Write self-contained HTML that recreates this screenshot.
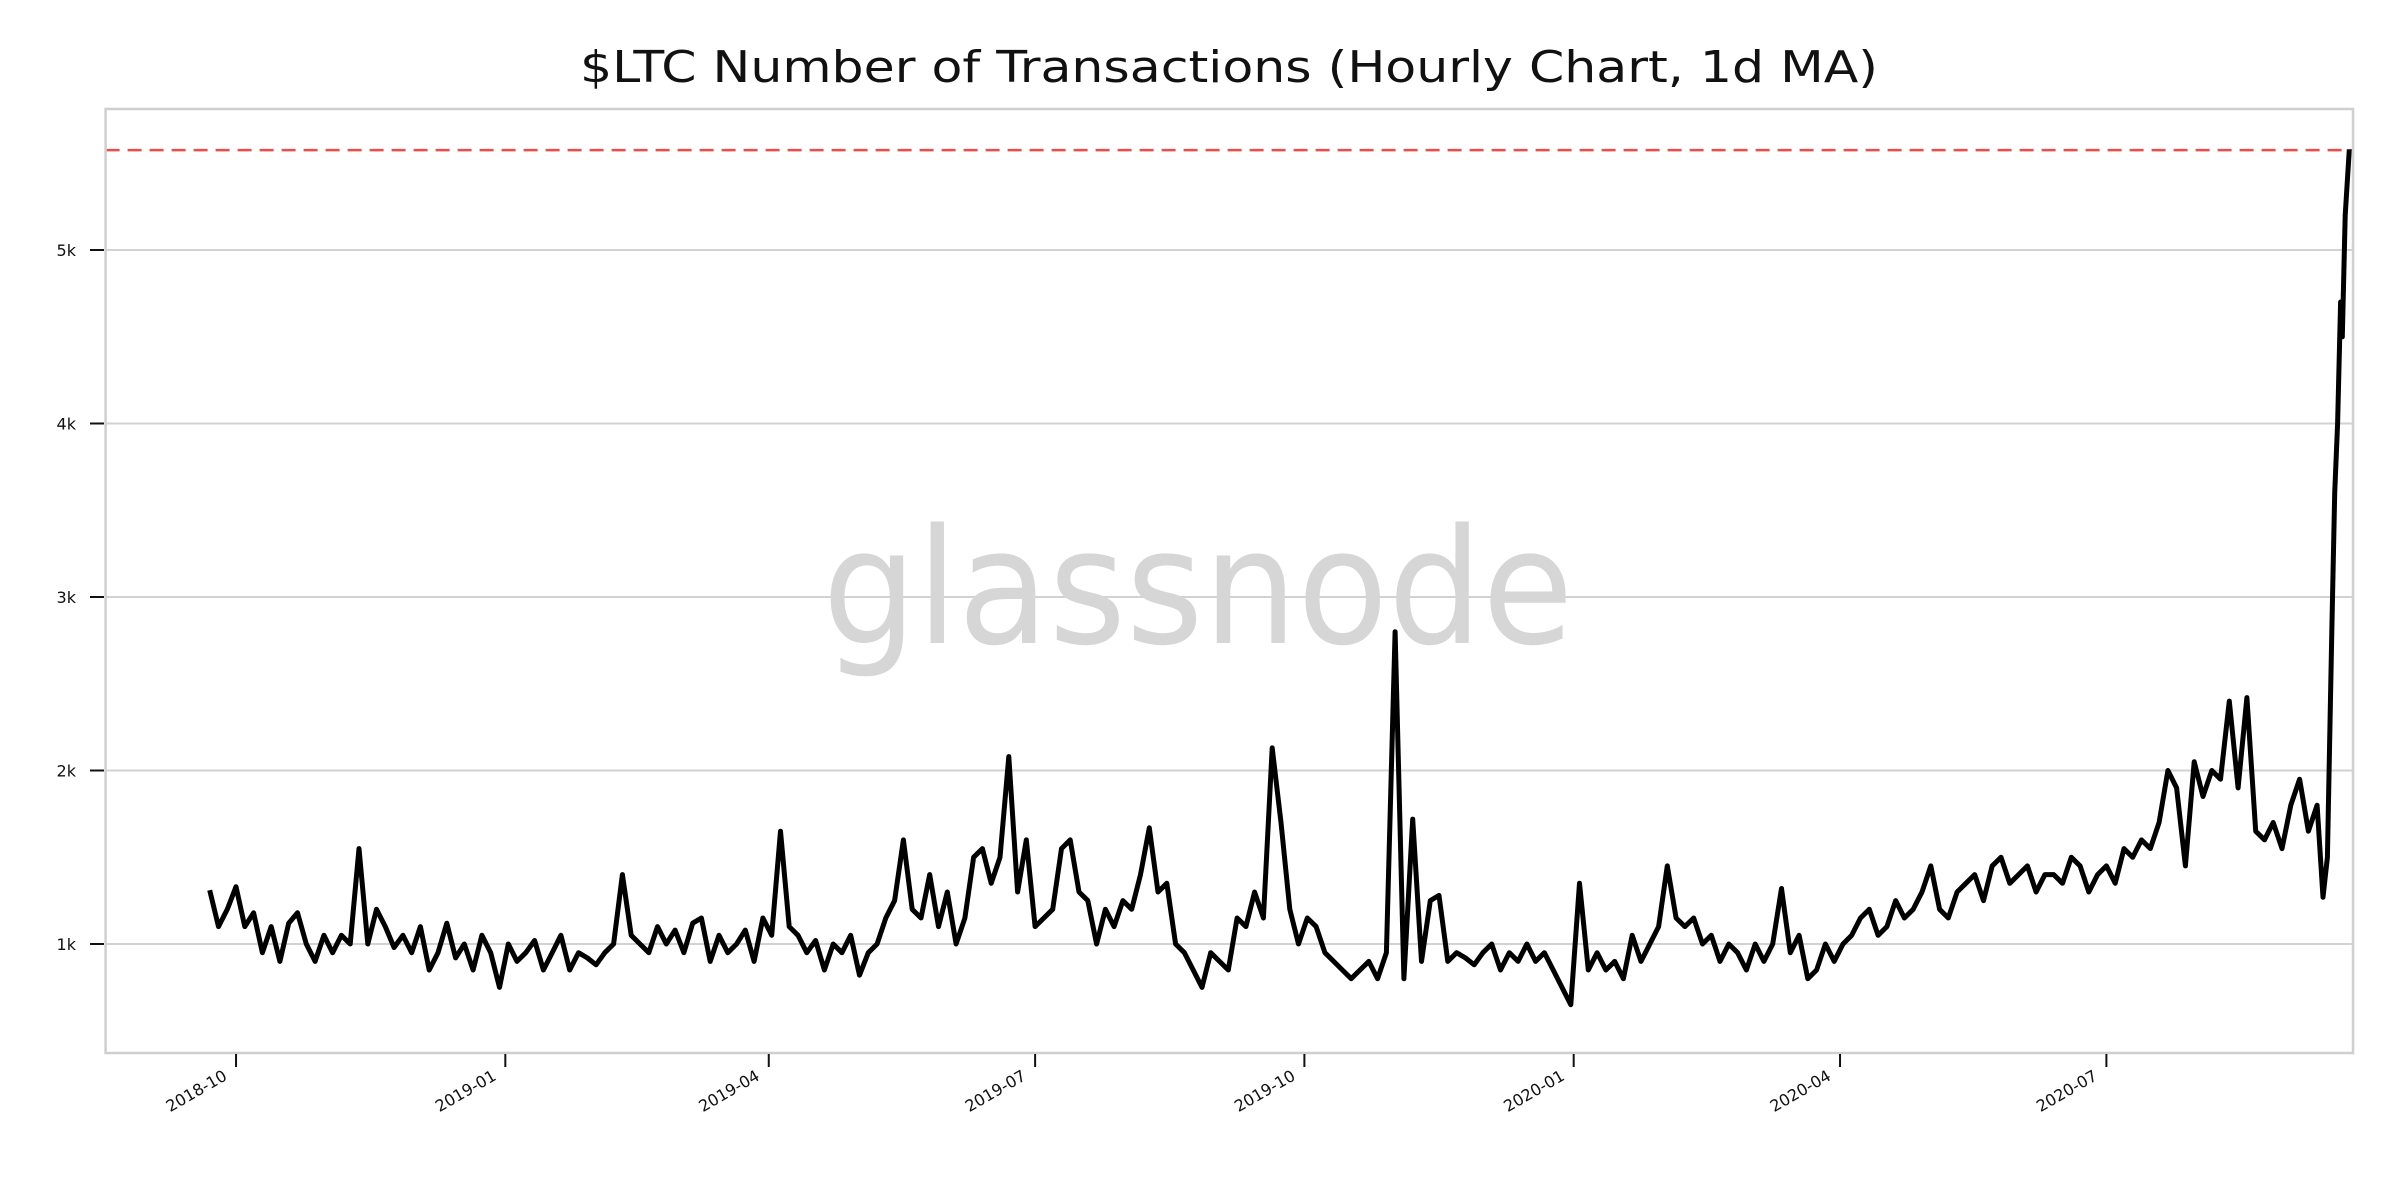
<!DOCTYPE html>
<html><head><meta charset="utf-8"><style>
html,body{margin:0;padding:0;background:#fff;}
svg{display:block;}
</style></head><body>
<svg id="chart" width="2400" height="1200" viewBox="0 0 2400 1200" xmlns="http://www.w3.org/2000/svg">
<rect width="2400" height="1200" fill="#fff"/>
<text x="1229" y="82" text-anchor="middle" font-family="DejaVu Sans, Liberation Sans, sans-serif" font-size="44" textLength="1298" lengthAdjust="spacingAndGlyphs" fill="#111">$LTC Number of Transactions (Hourly Chart, 1d MA)</text>
<g id="grid"></g>
<text x="1198" y="643" text-anchor="middle" font-family="DejaVu Sans, Liberation Sans, sans-serif" font-size="160" textLength="751" lengthAdjust="spacingAndGlyphs" fill="#d6d6d6">glassnode</text>
<g id="marks"></g>
<rect x="105.6" y="109" width="2247.4" height="944" fill="none" stroke="#cfcfcf" stroke-width="2.5"/>
<g id="axes"></g>
</svg>
<script>
// Data: values in thousands, sampled every 3 days starting 2018-09-22
const startDate = "2018-09-22";
const stepDays = 3;
const values = [
1.31,1.1,1.2,1.33,1.1,1.18,0.95,1.1,0.9,1.12,
1.18,1.0,0.9,1.05,0.95,1.05,1.0,1.55,1.0,1.2,
1.1,0.98,1.05,0.95,1.1,0.85,0.95,1.12,0.92,1.0,
0.85,1.05,0.95,0.75,1.0,0.9,0.95,1.02,0.85,0.95,
1.05,0.85,0.95,0.92,0.88,0.95,1.0,1.4,1.05,1.0,
0.95,1.1,1.0,1.08,0.95,1.12,1.15,0.9,1.05,0.95,
1.0,1.08,0.9,1.15,1.05,1.65,1.1,1.05,0.95,1.02,
0.85,1.0,0.95,1.05,0.82,0.95,1.0,1.15,1.25,1.6,
1.2,1.15,1.4,1.1,1.3,1.0,1.15,1.5,1.55,1.35,
1.5,2.08,1.3,1.6,1.1,1.15,1.2,1.55,1.6,1.3,
1.25,1.0,1.2,1.1,1.25,1.2,1.4,1.67,1.3,1.35,
1.0,0.95,0.85,0.75,0.95,0.9,0.85,1.15,1.1,1.3,
1.15,2.13,1.7,1.2,1.0,1.15,1.1,0.95,0.9,0.85,
0.8,0.85,0.9,0.8,0.95,2.8,0.8,1.72,0.9,1.25,
1.28,0.9,0.95,0.92,0.88,0.95,1.0,0.85,0.95,0.9,
1.0,0.9,0.95,0.85,0.75,0.65,1.35,0.85,0.95,0.85,
0.9,0.8,1.05,0.9,1.0,1.1,1.45,1.15,1.1,1.15,
1.0,1.05,0.9,1.0,0.95,0.85,1.0,0.9,1.0,1.32,
0.95,1.05,0.8,0.85,1.0,0.9,1.0,1.05,1.15,1.2,
1.05,1.1,1.25,1.15,1.2,1.3,1.45,1.2,1.15,1.3,
1.35,1.4,1.25,1.45,1.5,1.35,1.4,1.45,1.3,1.4,
1.4,1.35,1.5,1.45,1.3,1.4,1.45,1.35,1.55,1.5,
1.6,1.55,1.7,2.0,1.9,1.45,2.05,1.85,2.0,1.95,
2.4,1.9,2.42,1.65,1.6,1.7,1.55,1.8,1.95,1.65,
1.8];
const tailDays = [722,723.5,725,726,727,728,728.6,729.6,731];
const tailValues = [1.27,1.5,2.8,3.6,4.0,4.7,4.5,5.2,5.58];
const athValue = 5.576;
const yTicks = [1,2,3,4,5];
const yTickLabels = ["1k","2k","3k","4k","5k"];
const xTickDays = [9,101,191,282,374,466,557,648];
const xTickLabels = ["2018-10","2019-01","2019-04","2019-07","2019-10","2020-01","2020-04","2020-07"];

const NS = "http://www.w3.org/2000/svg";
const X0 = 105.6, X1 = 2353, Y0 = 109, Y1 = 1053;
function xs(d){ return 209.7 + d * 2.927; }
function ys(v){ return 1117.5 - v * 173.5; }
function mk(tag, attrs, parent){ const e = document.createElementNS(NS, tag); for (const k in attrs) e.setAttribute(k, attrs[k]); parent.appendChild(e); return e; }

const grid = document.getElementById('grid');
const axes = document.getElementById('axes');
const marks = document.getElementById('marks');

yTicks.forEach((v, i) => {
  const y = ys(v);
  const gl = mk('line', {x1: X0, x2: X1, y1: y, y2: y, stroke: '#d2d2d2', 'stroke-width': 2}, grid);
  
  
  const tk = mk('line', {x1: 90, x2: 104, y1: y, y2: y, stroke: '#111', 'stroke-width': 2}, axes);
  
  
  const t = mk('text', {x: 76, y: y + 6, 'text-anchor': 'end', 'font-family': 'DejaVu Sans, Liberation Sans, sans-serif', 'font-size': 16, fill: '#111'}, axes);
  t.textContent = yTickLabels[i];
  
  
});

xTickDays.forEach((d, i) => {
  const x = xs(d);
  const tk = mk('line', {x1: x, x2: x, y1: Y1 + 1, y2: Y1 + 14, stroke: '#111', 'stroke-width': 2}, axes);
  
  
  const t = mk('text', {x: x - 8, y: Y1 + 26, 'text-anchor': 'end', 'font-family': 'DejaVu Sans, Liberation Sans, sans-serif', 'font-size': 16, fill: '#111', transform: 'rotate(-30 ' + (x - 8) + ' ' + (Y1 + 26) + ')'}, axes);
  t.textContent = xTickLabels[i];
  
  
});

const ath = mk('line', {x1: X0, x2: X1, y1: ys(athValue), y2: ys(athValue), stroke: '#ee4b4b', 'stroke-width': 2.5, 'stroke-dasharray': '14 8'}, marks);



let pts = values.map((v, i) => xs(i * stepDays).toFixed(1) + ',' + ys(v).toFixed(1));
tailDays.forEach((d, i) => pts.push(xs(d).toFixed(1) + ',' + ys(tailValues[i]).toFixed(1)));
const line = mk('polyline', {points: pts.join(' '), fill: 'none', stroke: '#000', 'stroke-width': 5, 'stroke-linejoin': 'round'}, marks);


</script>
</body></html>
